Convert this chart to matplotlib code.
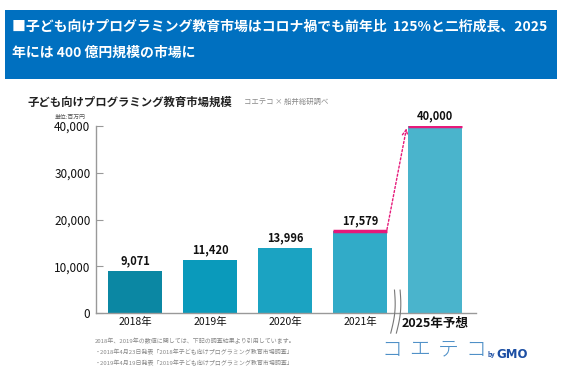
import numpy as np
import matplotlib
matplotlib.use("Agg")
import matplotlib.pyplot as plt
from matplotlib.patches import Rectangle

plt.rcParams['font.family'] = ['Noto Sans CJK JP', 'DejaVu Sans']

# data
years = ["2018年", "2019年", "2020年", "2021年", "2025年予想"]
market = [9071, 11420, 13996, 17579, 40000]
yticks = [0, 10000, 20000, 30000, 40000]
bar_colors = ["#0b87a3", "#0a9abb", "#1ba3c2", "#31abc8", "#4ab4cc"]
pink = "#e6197a"

title_l1 = "■子ども向けプログラミング教育市場はコロナ禍でも前年比  125%と二桁成長、2025"
title_l2 = "年には 400 億円規模の市場に"
notes = [
    "2018年、2019年の数値に関しては、下記の調査結果より引用しています。",
    "・2018年4月23日発表「2018年子ども向けプログラミング教育市場調査」",
    "・2019年4月19日発表「2019年子ども向けプログラミング教育市場調査」",
]

W, H = 570, 374
fig = plt.figure(figsize=(W / 100, H / 100), dpi=100)

def px(x, y):
    return x / W, 1 - y / H

# header box
fig.patches.append(Rectangle(px(5, 79), 552 / W, 69 / H, transform=fig.transFigure,
                             facecolor="#0070c0", edgecolor="none", zorder=0))
fig.text(*px(12, 27), title_l1, color="white", fontsize=10, fontweight="bold", va="center")
fig.text(*px(12, 53), title_l2, color="white", fontsize=10, fontweight="bold", va="center")

fig.text(*px(28, 102), "子ども向けプログラミング教育市場規模", fontsize=8.2, fontweight="bold",
         color="#222222", va="center")
fig.text(*px(244, 102), "コエテコ × 船井総研調べ", fontsize=5.3, color="#888888", va="center")
fig.text(*px(55, 117), "単位:百万円", fontsize=4.2, color="#555555", va="center")

# chart
ax = fig.add_axes([96 / W, 1 - 313 / H, 380 / W, 187 / H])
x = np.arange(len(years))
bw = 0.72
bars = ax.bar(x, market, width=bw, color=bar_colors, zorder=2)
ax.set_xlim(-0.52, 4.547)
ax.set_ylim(0, 40000)
ax.set_yticks(yticks)
ax.set_yticklabels([f"{v:,}" for v in yticks], fontsize=8.5, color="#111111")
ax.set_xticks(x)
ax.set_xticklabels(years, fontsize=7.5, color="#111111")
ax.get_xticklabels()[-1].set_fontweight("bold")
ax.get_xticklabels()[-1].set_fontsize(9)
ax.tick_params(axis="x", length=0, pad=3)
ax.tick_params(axis="y", direction="in", length=5, color="#999999", pad=4)
for s in ["top", "right"]:
    ax.spines[s].set_visible(False)
for s in ["left", "bottom"]:
    ax.spines[s].set_color("#999999")
    ax.spines[s].set_linewidth(1)

for xi, v in zip(x, market):
    ax.text(xi, v + 700, f"{v:,}", ha="center", va="bottom", fontsize=8,
            fontweight="bold", color="#111111")

# pink tops on last two bars
for xi, v in zip(x[-2:], market[-2:]):
    ax.plot([xi - bw / 2, xi + bw / 2], [v, v], color=pink, lw=2.5,
            solid_capstyle="butt", zorder=3)

# dotted growth arrow
ax.annotate("", xy=(x[4] - bw / 2 - 0.02, market[4] - 500),
            xytext=(x[3] + bw / 2, market[3] + 300),
            arrowprops=dict(arrowstyle="->", color=pink, lw=1, linestyle=(0, (1.5, 1.5)),
                            shrinkA=0, shrinkB=0), zorder=4)

# axis break marks (two gentle arcs)
t = np.linspace(0, 1, 50)
bx = (x[3] + x[4]) / 2
for off in (-0.04, 0.035):
    xs = bx + off + 0.03 * np.sin(t * np.pi) - 0.05 * t
    ys = 4900 - t * 9200
    ax.plot(xs, ys, color="#777777", lw=0.8, clip_on=False, zorder=5)

# footnotes
for i, n in enumerate(notes):
    fig.text(*px(95, 341 + 11 * i), n, fontsize=4.3, color="#888888", va="center")

# logo
for i, ch in enumerate("コエテコ"):
    fig.text(*px(392 + 28 * i, 349), ch, fontsize=15, color="#4d8fc7",
             ha="center", va="center", fontweight="light")
fig.text(*px(487, 355), "by", fontsize=4.5, color="#1b4ea3", va="center", fontweight="bold")
fig.text(*px(496, 354), "GMO", fontsize=8.5, color="#1b4ea3", va="center",
         fontweight="heavy", family="DejaVu Sans")

fig.savefig("out.png", dpi=100)
